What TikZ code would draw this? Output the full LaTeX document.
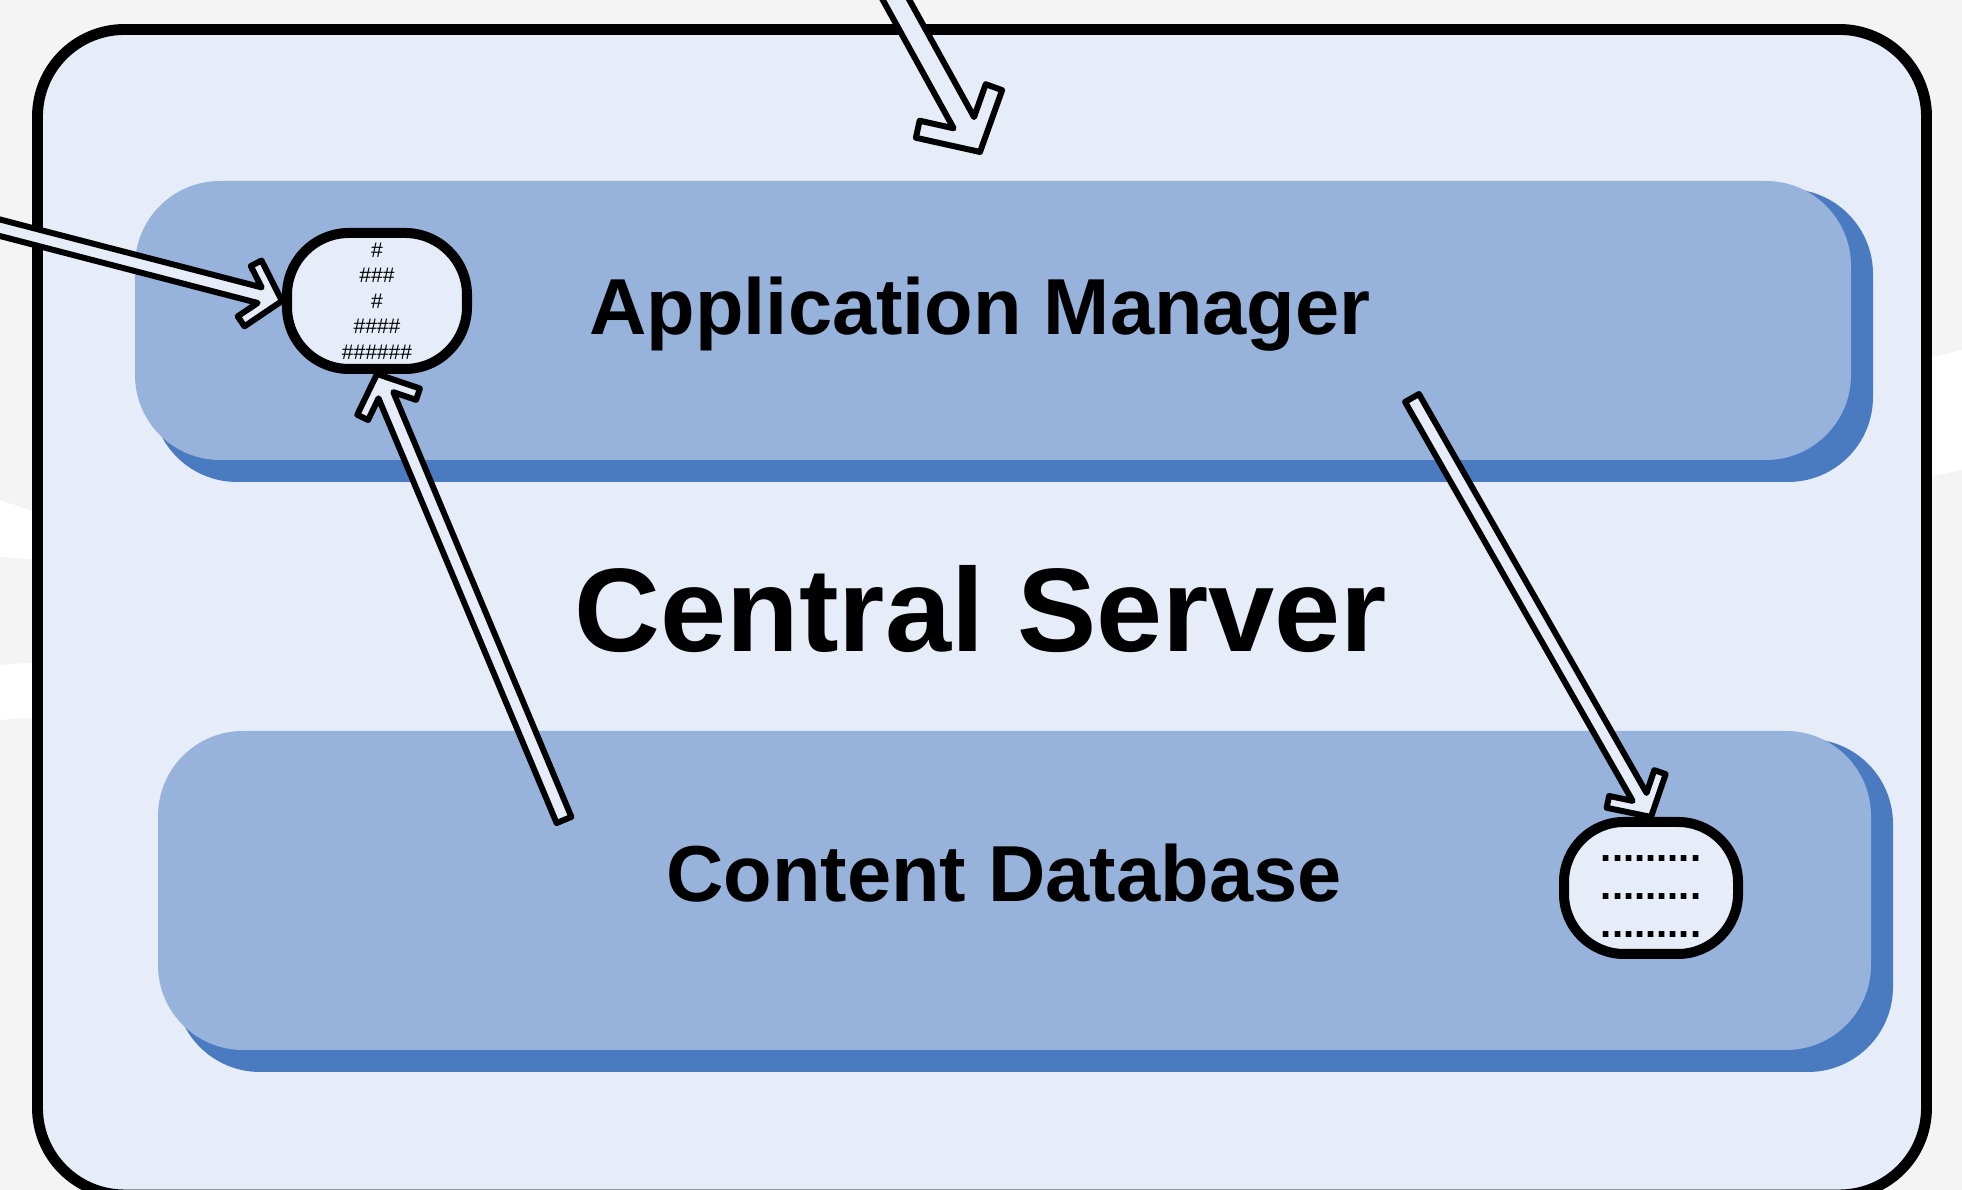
\documentclass[tikz,border=0pt]{standalone}
\usepackage{fontspec}
\setmainfont{Liberation Sans}
\usetikzlibrary{arrows.meta, positioning, calc}

\definecolor{paleblue}{HTML}{E6EDF8}
\definecolor{layerblue}{HTML}{97B3DB}
\definecolor{shadeblue}{HTML}{4A7AC0}
\definecolor{backgray}{HTML}{F4F4F4}

% outlined block arrow: [scale]{tail}{tip}
\newcommand{\fatarrow}[3][1]{%
  \pgfmathsetlengthmacro{\arrO}{4.53mm*#1}%
  \pgfmathsetlengthmacro{\arrI}{4.69mm*#1}%
  \pgfmathsetlengthmacro{\arrN}{2.44mm*#1}%
  \pgfmathsetlengthmacro{\arrW}{0.8mm*#1}%
  \draw[blockarrow] let \p1=($(#2)-(#3)$), \n1={atan2(\y1,\x1)} in
    (#3) -- ($(#3)+(\n1+48.6:\arrO)$) -- ($(#3)+(\n1+33.7:\arrI)$) -- ($(#3)+(\n1+19.2:\arrN)$)
    -- ($(#2)+(\n1+90:\arrW)$) -- ($(#2)+(\n1-90:\arrW)$)
    -- ($(#3)+(\n1-19.2:\arrN)$) -- ($(#3)+(\n1-33.7:\arrI)$) -- ($(#3)+(\n1-48.6:\arrO)$) -- cycle;
}

\begin{document}
\begin{tikzpicture}[
    layer/.style={rectangle, rounded corners=0.85cm, fill=layerblue, draw=none},
    shade/.style={fill=shadeblue, rounded corners=0.85cm},
    store/.style={rectangle, draw=black, line width=2.85pt,
        fill=paleblue, inner sep=0pt, align=center},
    title/.style={font=\bfseries\fontsize{22.6}{27}\selectfont, anchor=base},
    blockarrow/.style={draw=black, fill=paleblue, line width=1.7pt, line join=round}
  ]
  \useasboundingbox (0,0) rectangle (19.62,11.90);
  \clip (0,0) rectangle (19.62,11.90);

  % backdrop
  \fill[backgray] (0,0) rectangle (19.62,11.90);
  \fill[white] (0,6.90) -- (0.38,6.77) -- (0.38,6.30) -- (0,6.33) -- cycle;
  \fill[white] (0,5.25) -- (0.38,5.28) -- (0.38,4.73) -- (0,4.70) -- cycle;
  \fill[white] (19.2,8.30) -- (19.62,8.40) -- (19.62,7.20) -- (19.2,7.12) -- cycle;

  \node[rectangle, rounded corners=0.87cm, draw=black, line width=3.1pt, fill=paleblue,
        minimum width=18.89cm, minimum height=11.655cm] (server) at (9.82,5.7775) {};

  % shadows of the two layers
  \fill[shade] (1.52,7.08) rectangle (18.73,10.01);
  \fill[shade] (1.75,1.18) rectangle (18.93,4.51);

  \node[layer, minimum width=17.16cm, minimum height=2.79cm] (app_mgr) at (9.93,8.695) {};
  \node[layer, minimum width=17.13cm, minimum height=3.19cm] (content_db) at (10.145,2.995) {};

  \node[title] (app_label) at (9.80,8.55) {Application Manager};
  \node[title, font=\bfseries\fontsize{33.8}{40}\selectfont] (server_label) at (9.81,5.38) {Central Server};
  \node[title] (db_label) at (10.04,2.88) {Content Database};

  \node[store, minimum width=1.8cm, minimum height=1.36cm, rounded corners=0.62cm,
        font=\fontsize{6}{7.25}\selectfont] (hash_box) at (3.77,8.89)
        {\#\\\#\#\#\\\#\\\#\#\#\#\\\#\#\#\#\#\#};
  \node[store, minimum width=1.74cm, minimum height=1.32cm, rounded corners=0.6cm,
        font=\bfseries\fontsize{11.4}{10.7}\selectfont] (dot_box) at (16.51,3.02)
        {\rule{0pt}{6.6pt}.........\\.........\\.........};

  \coordinate (top_tail) at (8.74,12.30);
  \coordinate (top_tip) at (9.80,10.38);
  \coordinate (left_tail) at (-0.30,9.70);
  \coordinate (db_tail) at (5.64,3.70);
  \coordinate (app_tail) at (14.12,7.92);

  \fatarrow[1.45]{top_tail}{top_tip}
  \fatarrow{left_tail}{hash_box.west}
  \fatarrow{db_tail}{hash_box.south}
  \fatarrow{app_tail}{dot_box.north}
\end{tikzpicture}
\end{document}
